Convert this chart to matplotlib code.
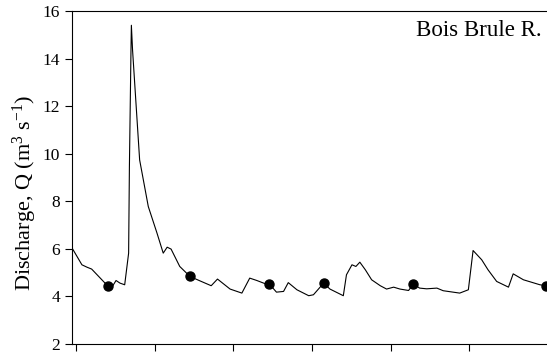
import matplotlib.pyplot as plt
import numpy as np

# daily discharge, Bois Brule River
day = [-0.5, 0.76, 1.4, 2.0, 3.7, 4.6, 5.1, 5.6, 6.2, 6.7, 6.8, 6.9, 7.0, 7.05,
       7.2, 8.1, 9.2, 10.3, 11.1, 11.6, 12.1, 13.2, 14.5, 15.8, 17.2, 18.0,
       19.6, 21.1, 22.1, 23.0, 24.1, 24.6, 25.5, 26.4, 27.0, 28.1, 29.6, 30.2,
       31.5, 32.3, 34.0, 34.4, 35.1, 35.6, 36.1, 36.8, 37.6, 38.7, 39.5, 40.4,
       41.2, 42.3, 42.9, 43.7, 44.6, 45.9, 46.7, 48.8, 49.9, 50.5, 51.6, 52.4,
       53.5, 55.0, 55.6, 56.9, 59.0, 59.8]
q = [6.04, 5.33, 5.23, 5.15, 4.56, 4.40, 4.67, 4.56, 4.49, 5.82, 9.46, 11.9,
     14.36, 15.4, 14.36, 9.74, 7.78, 6.67, 5.82, 6.07, 5.99, 5.26, 4.84, 4.65,
     4.45, 4.73, 4.31, 4.14, 4.77, 4.67, 4.53, 4.52, 4.18, 4.21, 4.58, 4.28,
     4.03, 4.07, 4.56, 4.31, 4.03, 4.91, 5.33, 5.26, 5.44, 5.12, 4.70, 4.45,
     4.31, 4.39, 4.31, 4.25, 4.53, 4.35, 4.32, 4.35, 4.24, 4.14, 4.28, 5.93,
     5.54, 5.12, 4.63, 4.39, 4.95, 4.70, 4.49, 4.45]

# sampling dates
sample_day = [4.1, 14.5, 24.6, 31.5, 42.9, 59.8]
sample_q = [4.45, 4.84, 4.52, 4.56, 4.53, 4.45]

plt.rcParams['font.family'] = 'Liberation Serif'

fig = plt.figure(figsize=(5.47, 3.6), dpi=100)
ax = fig.add_axes([72/547, 16/360, 475/547, 333/360])

ax.plot(day, q, color='black', lw=0.8)
ax.plot(sample_day, sample_q, 'o', color='black', ms=6.5, clip_on=False)

ax.set_xlim(-0.5, 59.9)
ax.set_ylim(2, 16)
ax.set_yticks(np.arange(2, 17, 2))
ax.set_xticks([0, 10, 20, 30, 40, 50])
ax.set_xticklabels([])
ax.tick_params(direction='out', length=5, width=0.8, labelsize=12.5)
ax.spines['right'].set_visible(False)
for s in ['left', 'bottom', 'top']:
    ax.spines[s].set_linewidth(0.8)

ax.set_ylabel(r'Discharge, Q (m$\mathregular{^{3}}$ s$\mathregular{^{-1}}$)',
              fontsize=16, va='center')
ax.yaxis.set_label_coords(-0.099, 0.453)
ax.text(0.989, 0.94, 'Bois Brule R.', transform=ax.transAxes,
        ha='right', va='center', fontsize=16.5)

fig.savefig('out.png', dpi=100)
